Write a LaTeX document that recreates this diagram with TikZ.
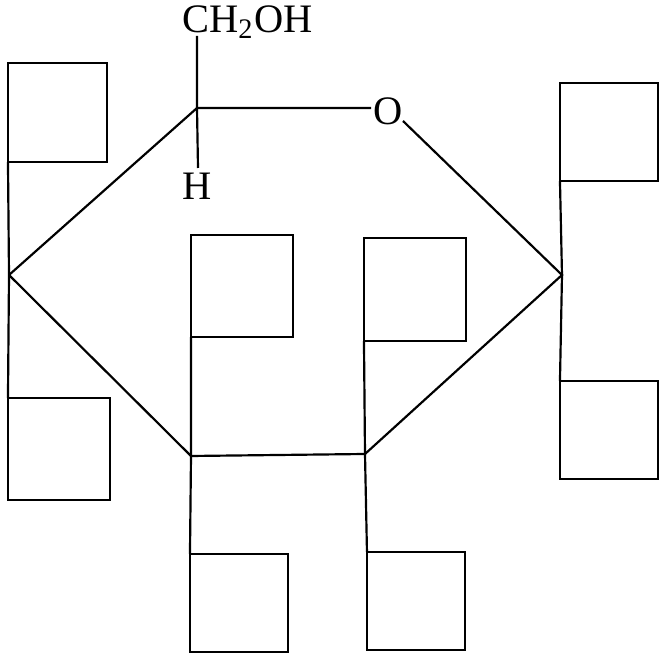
\documentclass[tikz,border=0pt]{standalone}
\usepackage{fontspec}
\setmainfont{Liberation Serif}
\tikzset{
	blank/.style={draw, line width=0.62pt, inner sep=0pt, outer sep=0pt},
	atom/.style={inner sep=0.4pt, anchor=base, font=\fontsize{11.5}{13}\selectfont}
}

\begin{document}
\begin{tikzpicture}[x=0.01cm, y=-0.01cm, line width=0.62pt]
	%%%%% START %%%%%
	\useasboundingbox (0, 0) rectangle (666, 658);

	% ring
	\coordinate (left) at (9, 275);
	\coordinate (top) at (197, 108);
	\coordinate (right) at (562, 275);
	\coordinate (lowR) at (365, 454);
	\coordinate (lowL) at (191, 456);

	\node[atom] (oxy) at (388, 124.5) {O};
	\node[atom] (hyd) at (197.5, 200) {H};
	\node[atom] (chtwo) at (247.5, 32.5) {CH\textsubscript{2}OH};
	\coordinate (chfoot) at (197, 36);
	\coordinate (hydtop) at (198, 168);
	\coordinate (oxyW) at (371, 108);
	\coordinate (oxyE) at (403, 121);

	\draw (left) -- (top) -- (oxyW);
	\draw (oxyE) -- (right) -- (lowR) -- (lowL) -- (left);
	\draw (chfoot) -- (top) -- (hydtop);

	% boxes
	\node[blank, minimum width=0.99cm, minimum height=0.99cm] (boxA) at (57.5, 112.5) {};
	\node[blank, minimum width=1.02cm, minimum height=1.02cm] (boxB) at (59, 449) {};
	\node[blank, minimum width=1.02cm, minimum height=1.02cm] (boxC) at (242, 286) {};
	\node[blank, minimum width=0.98cm, minimum height=0.98cm] (boxD) at (239, 603) {};
	\node[blank, minimum width=1.02cm, minimum height=1.03cm] (boxE) at (415, 289.5) {};
	\node[blank, minimum width=0.98cm, minimum height=0.98cm] (boxF) at (416, 601) {};
	\node[blank, minimum width=0.98cm, minimum height=0.98cm] (boxG) at (609, 132) {};
	\node[blank, minimum width=0.98cm, minimum height=0.98cm] (boxH) at (609, 430) {};

	\draw (boxA.south west) -- (left) -- (boxB.north west);
	\draw (boxC.south west) -- (lowL) -- (boxD.north west);
	\draw (boxE.south west) -- (lowR) -- (boxF.north west);
	\draw (boxG.south west) -- (right) -- (boxH.north west);
	%%%%% END %%%%%
\end{tikzpicture}
\end{document}
